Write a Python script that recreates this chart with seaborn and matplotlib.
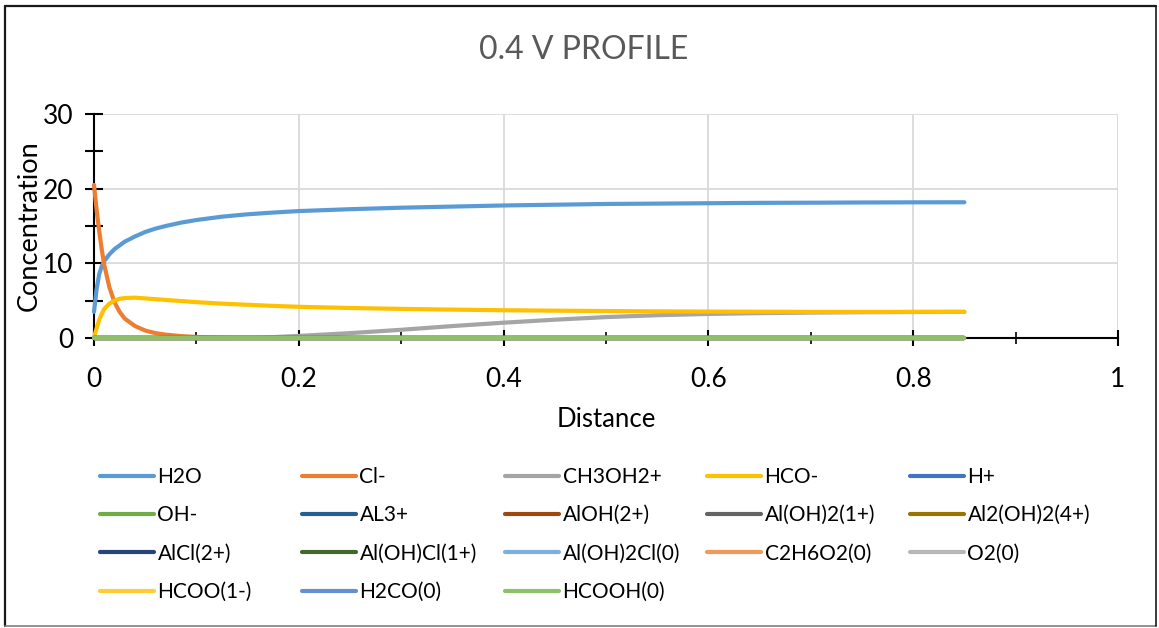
import numpy as np
import pandas as pd
import matplotlib
matplotlib.use("Agg")
import matplotlib.pyplot as plt
from matplotlib.lines import Line2D
from matplotlib.ticker import MultipleLocator, FuncFormatter
import seaborn as sns

# Sampled positions along the profile
distance = [0.0, 0.0025, 0.005, 0.0075, 0.01, 0.015, 0.02, 0.025, 0.03, 0.04,
            0.05, 0.06, 0.07, 0.085, 0.1, 0.125, 0.15, 0.175, 0.2, 0.25,
            0.3, 0.35, 0.4, 0.45, 0.5, 0.55, 0.6, 0.65, 0.7, 0.75, 0.8, 0.85]

h2o = [3.5, 6.5, 8.5, 9.6, 10.3, 11.2, 11.9, 12.4, 12.9, 13.6,
       14.2, 14.65, 15.0, 15.45, 15.8, 16.25, 16.57, 16.8, 17.0, 17.25,
       17.45, 17.6, 17.75, 17.85, 17.95, 18.0, 18.05, 18.1, 18.12, 18.15, 18.17, 18.18]

cl = [20.5, 17.2, 14.4, 11.9, 9.8, 6.8, 4.8, 3.5, 2.6, 1.6,
      1.0, 0.65, 0.45, 0.25, 0.14, 0.06, 0.03, 0.01, 0.0, 0.0,
      0.0, 0.0, 0.0, 0.0, 0.0, 0.0, 0.0, 0.0, 0.0, 0.0, 0.0, 0.0]

ch3oh2 = [0.0, 0.0, 0.0, 0.0, 0.0, 0.0, 0.0, 0.0, 0.0, 0.0,
          0.0, 0.0, 0.0, 0.0, 0.0, 0.0, 0.02, 0.12, 0.28, 0.65,
          1.1, 1.6, 2.05, 2.45, 2.8, 3.05, 3.22, 3.33, 3.4, 3.45, 3.48, 3.5]

hco = [0.1, 1.3, 2.4, 3.2, 3.9, 4.6, 5.0, 5.25, 5.35, 5.4,
       5.3, 5.2, 5.1, 4.95, 4.8, 4.6, 4.45, 4.3, 4.18, 4.02,
       3.9, 3.8, 3.72, 3.66, 3.61, 3.57, 3.54, 3.52, 3.5, 3.5, 3.5, 3.5]

# Species that stay at (numerically) zero over the whole profile
flat = [0.0, 0.0, 0.0, 0.0, 0.0, 0.0, 0.0, 0.0, 0.0, 0.0,
        0.0, 0.0, 0.0, 0.0, 0.0, 0.0, 0.0, 0.0, 0.0, 0.0,
        0.0, 0.0, 0.0, 0.0, 0.0, 0.0, 0.0, 0.0, 0.0, 0.0, 0.0, 0.0]

species = ["H2O", "Cl-", "CH3OH2+", "HCO-", "H+",
           "OH-", "AL3+", "AlOH(2+)", "Al(OH)2(1+)", "Al2(OH)2(4+)",
           "AlCl(2+)", "Al(OH)Cl(1+)", "Al(OH)2Cl(0)", "C2H6O2(0)", "O2(0)",
           "HCOO(1-)", "H2CO(0)", "HCOOH(0)"]

colors = ["#5B9BD5", "#ED7D31", "#A5A5A5", "#FFC000", "#4472C4",
          "#70AD47", "#255E91", "#9E480E", "#636363", "#997300",
          "#264478", "#43682B", "#7CAFDD", "#F1975A", "#B7B7B7",
          "#FFCD33", "#698ED0", "#8CC168"]

values = {"H2O": h2o, "Cl-": cl, "CH3OH2+": ch3oh2, "HCO-": hco}

frames = []
for name in species:
    frames.append(pd.DataFrame({"Distance": distance,
                                "Concentration": values.get(name, flat),
                                "Species": name}))
df = pd.concat(frames, ignore_index=True)
palette = dict(zip(species, colors))

sns.set_theme(style="white")
plt.rcParams["font.family"] = ["Lato", "DejaVu Sans"]

fig = plt.figure(figsize=(11.59, 6.28), dpi=100)
ax = fig.add_axes([94 / 1159, 1 - 338 / 628, (1118 - 94) / 1159, (338 - 114) / 628])

sns.lineplot(data=df, x="Distance", y="Concentration", hue="Species",
             hue_order=species, palette=palette, estimator=None, sort=False,
             linewidth=3.0, legend=False, ax=ax)
for ln in ax.get_lines():
    ln.set_solid_capstyle("round")
    ln.set_solid_joinstyle("round")
    ln.set_clip_on(False)

ax.set_xlim(0, 1)
ax.set_ylim(0, 30)
ax.xaxis.set_major_locator(MultipleLocator(0.2))
ax.xaxis.set_minor_locator(MultipleLocator(0.1))
ax.yaxis.set_major_locator(MultipleLocator(10))
ax.yaxis.set_minor_locator(MultipleLocator(5))
ax.xaxis.set_major_formatter(FuncFormatter(lambda v, p: f"{v:g}"))
ax.grid(True, which="major", color="#D9D9D9", linewidth=1.3)
ax.set_axisbelow(True)

for side in ("top", "right"):
    ax.spines[side].set_visible(False)
for side in ("left", "bottom"):
    ax.spines[side].set_color("black")
    ax.spines[side].set_linewidth(1.5)
    ax.spines[side].set_zorder(1.5)

ax.tick_params(axis="x", which="major", direction="inout", length=12, width=1.5,
               color="black", labelsize=19, pad=15, labelcolor="black")
ax.tick_params(axis="x", which="minor", direction="inout", length=8, width=1.2,
               color="black")
ax.tick_params(axis="y", which="both", direction="inout", length=13, width=1.5,
               color="black", labelsize=19, pad=8, labelcolor="black")
ax.tick_params(bottom=True, left=True, which="both")

ax.set_xlabel("Distance", fontsize=18.5, color="black", labelpad=11)
ax.set_ylabel("Concentration", fontsize=19.5, color="black", labelpad=1)
fig.text(584 / 1159, 1 - 50 / 628, "0.4 V PROFILE", ha="center", va="center",
         fontsize=23, color="#595959")

# Legend: five equal-width columns, filled row by row
ncol = 5
col_x = [100, 302, 505, 707, 910]
for c in range(ncol):
    names = species[c::ncol]
    handles = [Line2D([], [], color=palette[n], linewidth=3.0,
                      solid_capstyle="round") for n in names]
    leg = fig.legend(handles, names, loc="upper left",
                     bbox_to_anchor=(col_x[c] / 1159, 1 - 467 / 628),
                     frameon=False, fontsize=15, handlelength=2.6,
                     handletextpad=0.16, labelspacing=0.88, borderpad=0,
                     borderaxespad=0)
    for t in leg.get_texts():
        t.set_color("black")

# Chart frame
fig.add_artist(Line2D([5 / 1159, 5 / 1159], [1 - 6 / 628, 1 - 626 / 628],
                      transform=fig.transFigure, color="#1a1a1a", linewidth=1.6))
fig.add_artist(Line2D([5 / 1159, 1156 / 1159], [1 - 6 / 628, 1 - 6 / 628],
                      transform=fig.transFigure, color="#1a1a1a", linewidth=1.6))
fig.add_artist(Line2D([5 / 1159, 1156 / 1159], [1 - 626 / 628, 1 - 626 / 628],
                      transform=fig.transFigure, color="#7f7f7f", linewidth=1.2))
fig.add_artist(Line2D([1156 / 1159, 1156 / 1159], [1 - 6 / 628, 1 - 626 / 628],
                      transform=fig.transFigure, color="#1a1a1a", linewidth=1.2))

fig.savefig("out.png", dpi=100, facecolor="white")
